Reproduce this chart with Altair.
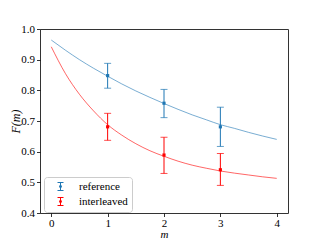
import altair as alt
import pandas as pd

# Measured points (m = 1, 2, 3)
m_pts = [1, 2, 3]
ref_mean = [0.848, 0.758, 0.681]
ref_lo = [0.807, 0.711, 0.617]
ref_hi = [0.888, 0.803, 0.745]
int_mean = [0.681, 0.589, 0.541]
int_lo = [0.637, 0.529, 0.490]
int_hi = [0.725, 0.647, 0.594]

# Fitted curves
m_fit = [0, 0.25, 0.5, 0.75, 1.0, 1.25, 1.5, 1.75, 2.0, 2.25, 2.5, 2.75, 3.0, 3.25, 3.5, 3.75, 4.0]
ref_fit = [0.964, 0.931, 0.900, 0.872, 0.846, 0.821, 0.798, 0.777, 0.757, 0.738, 0.720, 0.704, 0.688, 0.676, 0.663, 0.651, 0.640]
int_fit = [0.942, 0.855, 0.787, 0.733, 0.688, 0.654, 0.626, 0.603, 0.585, 0.569, 0.556, 0.546, 0.537, 0.530, 0.524, 0.518, 0.513]

x_ticks = [0, 1, 2, 3, 4]
y_ticks = [0.4, 0.5, 0.6, 0.7, 0.8, 0.9, 1.0]

series = ["reference", "interleaved"]
colors = ["#1f77b4", "#ff0000"]

pts = pd.DataFrame({
    "m": m_pts * 2,
    "F": ref_mean + int_mean,
    "lo": ref_lo + int_lo,
    "hi": ref_hi + int_hi,
    "s": [series[0]] * 3 + [series[1]] * 3,
})
fit = pd.DataFrame({
    "m": m_fit * 2,
    "F": ref_fit + int_fit,
    "s": [series[0]] * len(m_fit) + [series[1]] * len(m_fit),
})

serif = "Times New Roman, Liberation Serif, serif"
xs = alt.Scale(domain=[-0.2, 4.2], nice=False, zero=False)
ys = alt.Scale(domain=[0.4, 1.0], nice=False, zero=False)
cs = alt.Scale(domain=series, range=colors)

xaxis = alt.Axis(values=x_ticks, format="d", title="m", labelOverlap=False, labelFlush=False,
                 labelPadding=1, titleY=21, titleBaseline="middle", titleFontSize=11)
yaxis = alt.Axis(values=y_ticks, format=".1f", title="F(m)", tickCount=7,
                 labelOverlap=False, labelFlush=False, titlePadding=-2)

sym = "M0,-1V1M-0.75,-1H0.75M-0.75,1H0.75M-0.2,-0.2H0.2V0.2H-0.2Z"
legend = alt.Legend(
    title=None, orient="none", legendX=4, legendY=148,
    symbolType=sym, symbolSize=64, symbolStrokeWidth=1, symbolOpacity=1,
    labelFont=serif, labelFontSize=11, labelColor="black",
    padding=4, symbolOffset=7, labelOffset=13, rowPadding=2,
    strokeColor="#cccccc", fillColor="white", cornerRadius=3)

color = alt.Color("s:N", scale=cs, legend=legend)


def X(f):
    return alt.X(f, scale=xs, axis=xaxis)


def Y(f):
    return alt.Y(f, scale=ys, axis=yaxis)


lines = alt.Chart(fit).mark_line(strokeWidth=1, opacity=0.6, interpolate="monotone").encode(
    x=X("m:Q"), y=Y("F:Q"), color=color, detail="s:N",
)
rules = alt.Chart(pts).mark_rule(strokeWidth=1).encode(
    x=X("m:Q"), y=Y("lo:Q"), y2="hi:Q", color=color,
)
caps_hi = alt.Chart(pts).mark_tick(orient="horizontal", size=7, thickness=1).encode(
    x=X("m:Q"), y=Y("hi:Q"), color=color,
)
caps_lo = alt.Chart(pts).mark_tick(orient="horizontal", size=7, thickness=1).encode(
    x=X("m:Q"), y=Y("lo:Q"), color=color,
)
points = alt.Chart(pts).mark_square(size=10, filled=True, opacity=1).encode(
    x=X("m:Q"), y=Y("F:Q"), color=color,
)

chart = alt.layer(lines, rules, caps_hi, caps_lo, points).properties(
    width=248, height=184,
    padding={"left": 32, "top": 21, "right": 24, "bottom": 27},
    autosize=alt.AutoSizeParams(type="none"),
).configure(
    background="white", font=serif
).configure_view(
    stroke="#333333", strokeWidth=1
).configure_axis(
    grid=False, domain=False, tickSize=3.5, tickColor="black", tickWidth=0.8,
    labelPadding=2, labelFont=serif, labelFontSize=11, labelColor="black",
    titleFont=serif, titleFontStyle="italic", titleFontWeight="normal",
    titleFontSize=12, titleColor="black",
).configure_legend(
    labelFont=serif,
)

chart.save("out.html", embed_options={"renderer": "svg", "actions": False})
